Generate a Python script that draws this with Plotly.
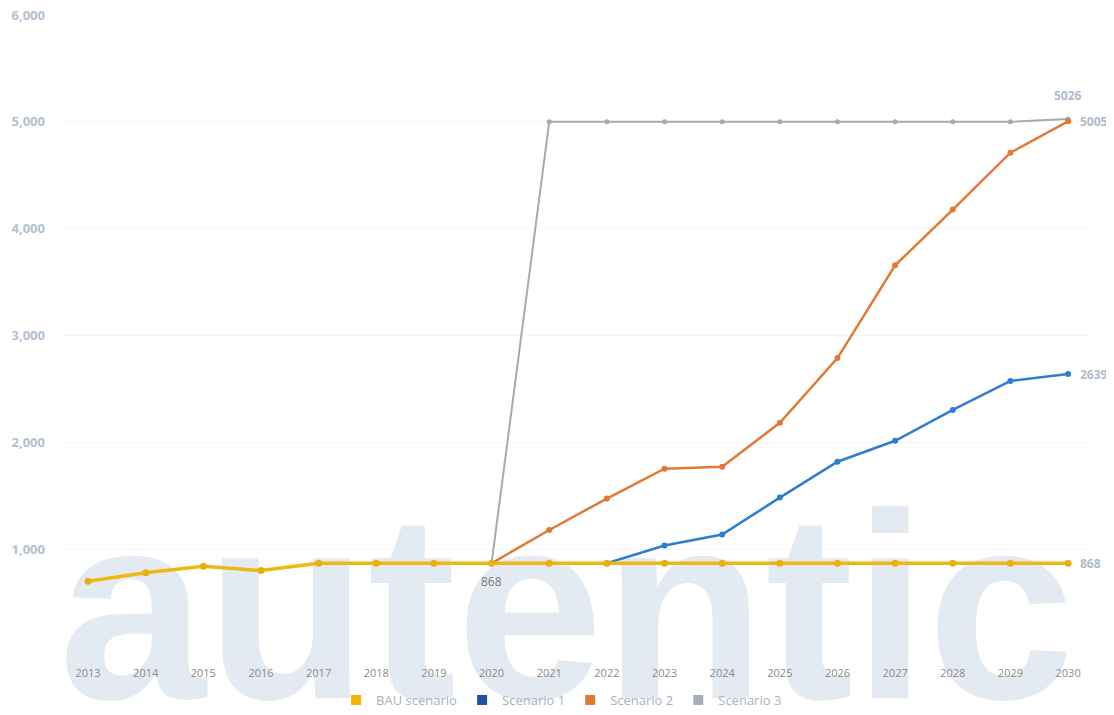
import plotly.graph_objects as go

years = list(range(2013, 2031))
bau = [700, 780, 840, 800, 868, 868, 868, 868, 868, 868, 868, 868, 868, 868, 868, 868, 868, 868]
s1_years = list(range(2022, 2031))
s1 = [868, 1035, 1138, 1483, 1819, 2015, 2304, 2575, 2639]
s2_years = list(range(2020, 2031))
s2 = [868, 1180, 1474, 1754, 1772, 2183, 2789, 3657, 4179, 4711, 5005]
s3_years = list(range(2020, 2031))
s3 = [868, 5000, 5000, 5000, 5000, 5000, 5000, 5000, 5000, 5000, 5026]
names = ["BAU scenario", "Scenario 1", "Scenario 2", "Scenario 3"]
y_ticks = [1000, 2000, 3000, 4000, 5000, 6000]
watermark = "autentic"

line_cols = ["#EDB814", "#2E7DD1", "#E07A35", "#A3ABB5"]
legend_cols = ["#F0B400", "#1F4FA0", "#E07A35", "#A8AFB8"]

fig = go.Figure()

# watermark drawn first as a text trace so lines sit on top
fig.add_trace(go.Scatter(x=[2021.3], y=[224], mode="text", text=[watermark],
                         textposition="middle center", showlegend=False, hoverinfo="skip",
                         cliponaxis=False,
                         textfont=dict(family="Liberation Sans, Arial, sans-serif",
                                       size=265, color="#E4EAF1", weight="bold")))

fig.add_trace(go.Scatter(x=s3_years, y=s3, name=names[3], mode="lines+markers", showlegend=False,
                         line=dict(color=line_cols[3], width=2), marker=dict(size=5, color=line_cols[3])))
fig.add_trace(go.Scatter(x=s2_years, y=s2, name=names[2], mode="lines+markers", showlegend=False,
                         line=dict(color=line_cols[2], width=2.5), marker=dict(size=6, color=line_cols[2])))
fig.add_trace(go.Scatter(x=s1_years, y=s1, name=names[1], mode="lines+markers", showlegend=False,
                         line=dict(color=line_cols[1], width=2.5), marker=dict(size=6, color=line_cols[1])))
fig.add_trace(go.Scatter(x=years, y=bau, name=names[0], mode="lines+markers", showlegend=False,
                         line=dict(color=line_cols[0], width=3.5), marker=dict(size=7, color="#E8B010")))

# legend entries with square swatches
for nm, col in zip(names, legend_cols):
    fig.add_trace(go.Scatter(x=[None], y=[None], name=nm, mode="markers",
                             marker=dict(symbol="square", size=10, color=col)))

lab_font = dict(family="Open Sans", size=12, color="#AEBCCB")
fig.add_annotation(x=2030, y=s3[-1], text="<b>5026</b>", showarrow=False, yshift=24, font=lab_font)
fig.add_annotation(x=2030, y=s2[-1], text="<b>5005</b>", showarrow=False, xanchor="left", xshift=10, font=lab_font)
fig.add_annotation(x=2030, y=s1[-1], text="<b>2639</b>", showarrow=False, xanchor="left", xshift=10, font=lab_font)
fig.add_annotation(x=2030, y=bau[-1], text="<b>868</b>", showarrow=False, xanchor="left", xshift=10, font=lab_font)
fig.add_annotation(x=2020, y=bau[7], text="868", showarrow=False, yshift=-18,
                   font=dict(family="Open Sans", size=12, color="#7A7A7A"))

# page body has an 8px margin, so the figure is sized/offset to compensate
fig.update_layout(
    width=1106, height=707,
    margin=dict(l=52, r=24, t=7, b=0),
    paper_bgcolor="white", plot_bgcolor="white",
    font=dict(family="Open Sans", size=12),
    legend=dict(orientation="h", x=0.487, xanchor="center", y=0.02, yanchor="middle",
                font=dict(size=13, color="#A9B3BE"), itemwidth=30,
                bgcolor="rgba(0,0,0,0)"),
    showlegend=True,
)
fig.update_xaxes(range=[2012.514, 2030.38], tickmode="array", tickvals=years,
                 ticktext=[str(y) for y in years], showgrid=False, zeroline=False,
                 showline=False, tickfont=dict(size=11, color="#8C8C84"), ticks="",
                 ticklabelstandoff=9, automargin=False)
fig.update_yaxes(range=[0, 6000], domain=[0.0829, 1], tickmode="array", tickvals=y_ticks,
                 ticktext=[f"<b>{v:,}</b>" for v in y_ticks], showgrid=True, gridcolor="#F5F7F9",
                 zeroline=False, showline=False, ticklabelstandoff=14, automargin=False,
                 ticklabeloverflow="allow",
                 tickfont=dict(size=13, color="#B3C0CE", family="Open Sans"), ticks="")

fig.write_html("out.html")
